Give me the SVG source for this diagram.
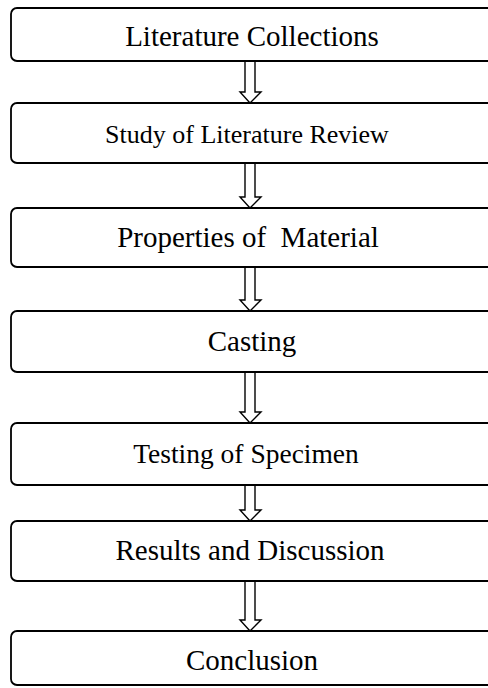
<svg xmlns="http://www.w3.org/2000/svg" width="488" height="688" viewBox="0 0 488 688">
<style>
.box{fill:#fff;stroke:#000;stroke-width:1.8}
.lbl{font-family:"Liberation Serif","Times New Roman",serif;font-size:29px;fill:#000;text-anchor:middle;white-space:pre}
.arr{fill:#fff;stroke:#000;stroke-width:1.4;stroke-linejoin:miter}
</style>
<rect width="488" height="688" fill="#fff"/>
<g id="connectors">
<path class="arr" d="M245,61 V92 H240 L250,103 L261,92 H255 V61"/>
<path class="arr" d="M245,163 V197 H240 L250,208 L261,197 H255 V163"/>
<path class="arr" d="M245,267 V300 H240 L250,311 L261,300 H255 V267"/>
<path class="arr" d="M245,372 V412 H240 L250,423 L261,412 H255 V372"/>
<path class="arr" d="M245,485 V510 H240 L250,521 L261,510 H255 V485"/>
<path class="arr" d="M245,581 V620 H240 L250,631 L261,620 H255 V581"/>
</g>
<g id="n1"><rect class="box" x="11" y="8" width="500" height="53" rx="6"/><text class="lbl" x="252" y="46">Literature Collections</text></g>
<g id="n2"><rect class="box" x="11" y="103" width="500" height="60" rx="6"/><text class="lbl" x="247" y="143" style="font-size:26px">Study of Literature Review</text></g>
<g id="n3"><rect class="box" x="11" y="208" width="500" height="59" rx="6"/><text class="lbl" x="248" y="247" xml:space="preserve">Properties of  Material</text></g>
<g id="n4"><rect class="box" x="11" y="311" width="500" height="61" rx="6"/><text class="lbl" x="252" y="351">Casting</text></g>
<g id="n5"><rect class="box" x="11" y="423" width="500" height="62" rx="6"/><text class="lbl" x="246" y="463" style="font-size:27.5px">Testing of Specimen</text></g>
<g id="n6"><rect class="box" x="11" y="521" width="500" height="60" rx="6"/><text class="lbl" x="250" y="560">Results and Discussion</text></g>
<g id="n7"><rect class="box" x="11" y="631" width="500" height="54" rx="6"/><text class="lbl" x="252" y="670">Conclusion</text></g>
</svg>
